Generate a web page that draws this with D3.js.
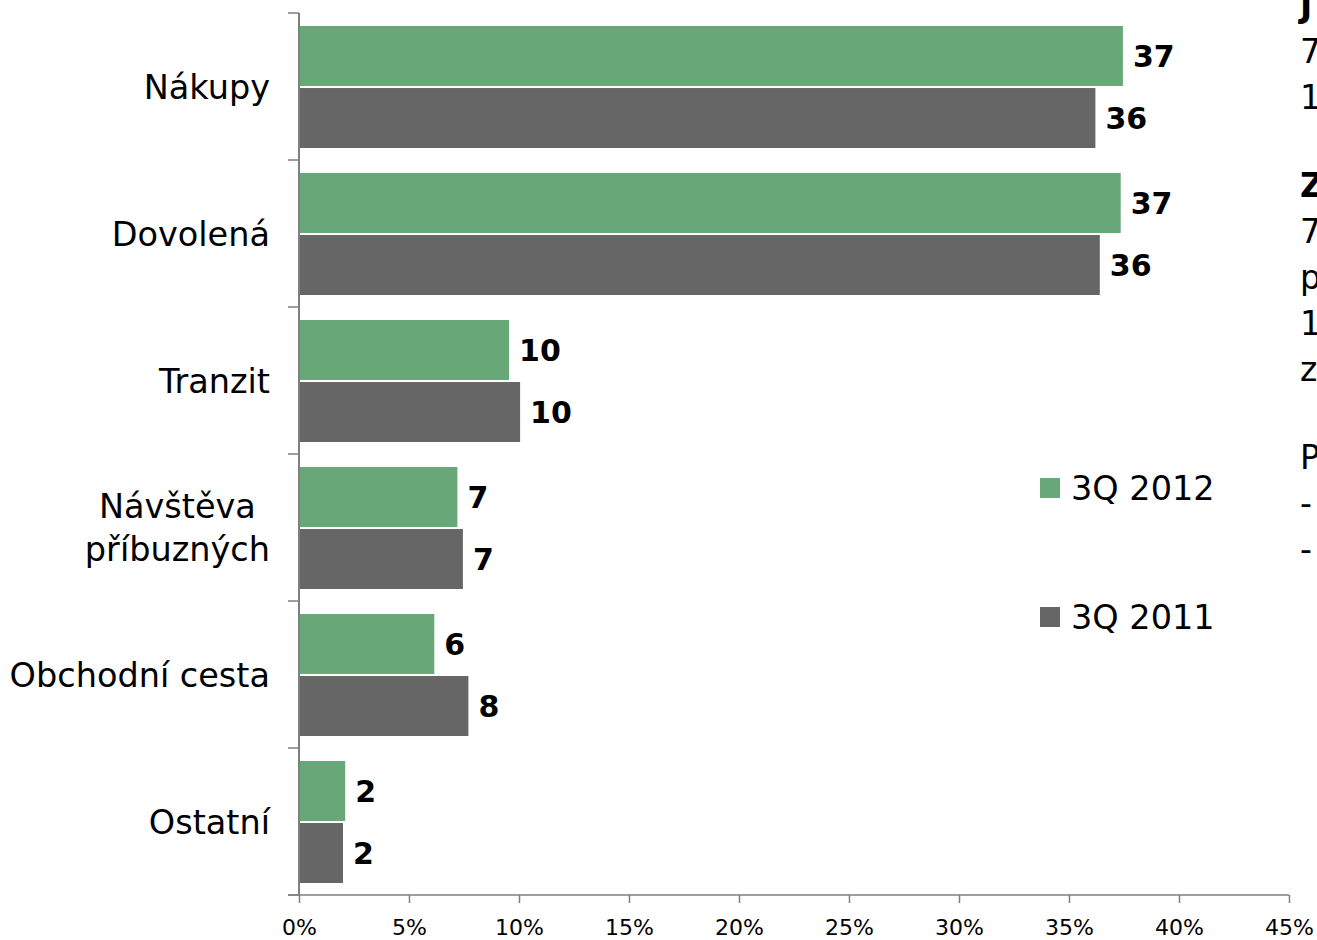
<!DOCTYPE html>
<html>
<head>
<meta charset="utf-8">
<script src="https://cdn.jsdelivr.net/npm/d3@7"></script>
<style>
  body { margin: 0; background: #fff; }
  svg { display: block; font-family: "DejaVu Sans", Verdana, sans-serif; }
</style>
</head>
<body>
<svg id="chart" width="1317" height="940"></svg>
<script>
// data
const categories = ["Nákupy", "Dovolená", "Tranzit", "Návštěva|příbuzných", "Obchodní cesta", "Ostatní"];
const series = ["3Q 2012", "3Q 2011"];
const values2012 = [37.45, 37.35, 9.55, 7.2, 6.15, 2.1];
const values2011 = [36.2, 36.4, 10.05, 7.45, 7.7, 2.0];
const labels2012 = ["37", "37", "10", "7", "6", "2"];
const labels2011 = ["36", "36", "10", "7", "8", "2"];
const xTicks = [0, 5, 10, 15, 20, 25, 30, 35, 40, 45];
// text box on the right, cut by the page edge in the original
const sideLines = [
  { t: "J", bold: true }, { t: "7" }, { t: "1" }, null,
  { t: "Z", bold: true }, { t: "7" }, { t: "p" }, { t: "1" }, { t: "z" }, null,
  { t: "P" }, { t: "-" }, { t: "-" }
];

const colors = { "3Q 2012": "#68a878", "3Q 2011": "#666666" };
const svg = d3.select("#chart");

const x = d3.scaleLinear().domain([0, 45]).range([299, 1289]);
const y = d3.scaleBand().domain(categories).range([13, 895]);
const sub = d3.scaleBand().domain(series).range([13, y.bandwidth() - 12]).paddingInner(0.033);

const rows = categories.map((c, i) => ({
  cat: c,
  bars: [
    { s: "3Q 2012", v: values2012[i], label: labels2012[i] },
    { s: "3Q 2011", v: values2011[i], label: labels2011[i] }
  ]
}));

// bars
const row = svg.append("g").selectAll("g.row")
  .data(rows)
  .join("g")
  .attr("class", "row")
  .attr("transform", d => `translate(0,${y(d.cat)})`);

row.selectAll("rect")
  .data(d => d.bars)
  .join("rect")
  .attr("x", x(0))
  .attr("y", d => sub(d.s))
  .attr("width", d => x(d.v) - x(0))
  .attr("height", sub.bandwidth())
  .attr("fill", d => colors[d.s]);

row.selectAll("text.val")
  .data(d => d.bars)
  .join("text")
  .attr("class", "val")
  .attr("x", d => x(d.v) + 10)
  .attr("y", d => sub(d.s) + sub.bandwidth() / 2)
  .attr("dy", "0.36em")
  .attr("font-size", 30)
  .attr("font-weight", "bold")
  .attr("fill", "#000")
  .text(d => d.label);

// y axis
const axisColor = "#7f7f7f";
svg.append("line")
  .attr("x1", x(0)).attr("x2", x(0))
  .attr("y1", 13).attr("y2", 895)
  .attr("stroke", axisColor).attr("stroke-width", 2);

const bounds = categories.map(c => y(c)).concat([895]);
svg.append("g").selectAll("line")
  .data(bounds)
  .join("line")
  .attr("x1", x(0) - 11).attr("x2", x(0))
  .attr("y1", d => d).attr("y2", d => d)
  .attr("stroke", axisColor).attr("stroke-width", 1.5);

// category labels
const catG = svg.append("g").attr("font-size", 33.5).attr("fill", "#000");
categories.forEach(c => {
  const lines = c.split("|");
  const cy = y(c) + y.bandwidth() / 2;
  const lh = 43;
  const t = catG.append("text").attr("text-anchor", lines.length > 1 ? "middle" : "end");
  lines.forEach((ln, j) => {
    t.append("tspan")
      .attr("x", 270)
      .attr("y", cy + (j - (lines.length - 1) / 2) * lh)
      .attr("dy", "0.36em")
      .text(ln);
  });
  if (lines.length > 1) {
    const w = d3.max(t.selectAll("tspan").nodes(), n => n.getComputedTextLength());
    t.selectAll("tspan").attr("x", 270 - w / 2);
  }
});

// x axis
const xAxis = d3.axisBottom(x)
  .tickValues(xTicks)
  .tickFormat(d => d + "%")
  .tickSize(8)
  .tickSizeOuter(0);

const gx = svg.append("g")
  .attr("transform", "translate(0,895)")
  .call(xAxis);
gx.select(".domain").attr("stroke", axisColor).attr("stroke-width", 1.5)
  .attr("d", `M${x(0) - 11},0H${x(45)}`);
gx.selectAll(".tick line").attr("stroke", axisColor).attr("stroke-width", 1.5);
gx.selectAll(".tick text")
  .attr("font-family", "DejaVu Sans, Verdana, sans-serif")
  .attr("font-size", 22)
  .attr("fill", "#000")
  .attr("y", 24)
  .attr("dy", "0.71em");

// legend
const legend = svg.append("g").selectAll("g")
  .data(series)
  .join("g")
  .attr("transform", (d, i) => `translate(1040,${488 + i * 129})`);
legend.append("rect")
  .attr("x", 0).attr("y", -10)
  .attr("width", 20).attr("height", 20)
  .attr("fill", d => colors[d]);
legend.append("text")
  .attr("x", 31).attr("y", 0)
  .attr("dy", "0.36em")
  .attr("font-size", 33.5)
  .attr("fill", "#000")
  .text(d => d);

// side text (clipped at right edge, as in the source)
const side = svg.append("g").attr("font-size", 33).attr("fill", "#000");
let yy = 5;
sideLines.forEach(l => {
  if (l) {
    side.append("text")
      .attr("x", 1300).attr("y", yy)
      .attr("dy", "0.36em")
      .attr("font-weight", l.bold ? "bold" : "normal")
      .text(l.t);
    yy += 46;
  } else {
    yy += 42;
  }
});
</script>
</body>
</html>
